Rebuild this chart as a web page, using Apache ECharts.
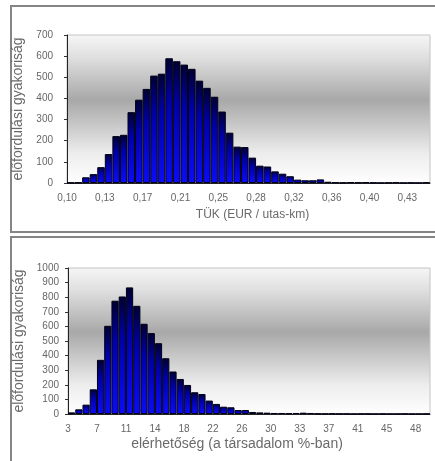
<!DOCTYPE html>
<html>
<head>
<meta charset="utf-8">
<script src="https://cdn.jsdelivr.net/npm/echarts@6/dist/echarts.min.js"></script>
<style>
  html, body { margin: 0; padding: 0; background: #fff; }
  #chart { width: 435px; height: 461px; }
</style>
</head>
<body>
<div id="chart"></div>
<script>
// felső diagram: TÜK gyakoriság (48 osztály)
var tukValues = [2, 3, 27, 42, 75, 137, 222, 228, 335, 394, 445, 508, 517, 590, 576, 560,
  540, 484, 450, 408, 338, 238, 172, 170, 120, 82, 78, 55, 44, 32, 16, 13,
  13, 17, 6, 3, 2, 4, 3, 4, 2, 1, 2, 3, 1, 2, 1, 3];
var tukTicks = ['0,10', '0,13', '0,17', '0,21', '0,25', '0,28', '0,32', '0,36', '0,40', '0,43'];

// alsó diagram: elérhetőség gyakoriság (50 osztály)
var elerValues = [11, 32, 64, 169, 371, 604, 776, 805, 867, 741, 618, 554, 485, 382, 291, 240,
  199, 149, 137, 92, 69, 50, 46, 27, 27, 14, 11, 9, 7, 7, 5, 7,
  9, 7, 3, 2, 3, 2, 2, 1, 2, 2, 1, 2, 1, 1, 2, 1, 1, 2];
var elerTicks = ['3', '7', '11', '14', '18', '22', '26', '30', '33', '37', '41', '45', '48'];

var font = 'Liberation Sans, Arial, sans-serif';

var plotBg = new echarts.graphic.LinearGradient(0, 0, 0, 1, [
  { offset: 0, color: '#f6f6f6' },
  { offset: 0.15, color: '#e0e0e0' },
  { offset: 0.44, color: '#a8a8a8' },
  { offset: 0.8, color: '#ededed' },
  { offset: 1, color: '#ffffff' }
]);
var barFill = new echarts.graphic.LinearGradient(0, 0, 0, 1, [
  { offset: 0, color: '#000030' },
  { offset: 0.35, color: '#0000a8' },
  { offset: 1, color: '#0c0cf8' }
]);

function xAxisFor(gridIndex, values, ticks, step, name, gap, pad, nameSize, namePad) {
  return {
    type: 'category',
    gridIndex: gridIndex,
    data: values.map(function (v, i) { return i; }),
    name: name,
    nameLocation: 'middle',
    nameGap: gap,
    nameTextStyle: { color: '#6a6a6a', fontSize: nameSize, fontFamily: font, padding: namePad },
    axisLine: { lineStyle: { color: '#222', width: 1 } },
    axisTick: { interval: 0, length: 3, lineStyle: { color: '#333' } },
    axisLabel: {
      interval: 0,
      margin: 10,
      fontSize: 10,
      color: '#666',
      fontFamily: font,
      padding: [0, pad, 0, 0],
      formatter: function (v, i) { return i % step === 0 ? (ticks[i / step] || '') : ''; }
    }
  };
}

function yAxisFor(gridIndex, max, name, margin, gap) {
  return {
    type: 'value',
    gridIndex: gridIndex,
    min: 0,
    max: max,
    interval: 100,
    name: name,
    nameLocation: 'middle',
    nameRotate: 90,
    nameGap: gap,
    nameTextStyle: { color: '#6a6a6a', fontSize: 14, fontFamily: font },
    axisLine: { show: true, lineStyle: { color: '#222', width: 1 } },
    axisTick: { show: true, length: 3, lineStyle: { color: '#333' } },
    axisLabel: { margin: margin, fontSize: 10, color: '#666', fontFamily: font,
      formatter: function (v) { return String(v); } },
    splitLine: { show: false }
  };
}

var myChart = echarts.init(document.getElementById('chart'));
var option = {
  animation: false,
  backgroundColor: '#fff',
  graphic: [
    { type: 'rect', z: -5, shape: { x: 11, y: 6, width: 440, height: 226 },
      style: { fill: 'none', stroke: '#858585', lineWidth: 2 } },
    { type: 'rect', z: -5, shape: { x: 11, y: 237, width: 440, height: 240 },
      style: { fill: 'none', stroke: '#858585', lineWidth: 2 } }
  ],
  grid: [
    { left: 67, top: 35, width: 363, height: 148, show: true,
      backgroundColor: plotBg, borderColor: '#c4c4c4', borderWidth: 1 },
    { left: 68, top: 268, width: 362, height: 146, show: true,
      backgroundColor: plotBg, borderColor: '#c4c4c4', borderWidth: 1 }
  ],
  xAxis: [
    xAxisFor(0, tukValues, tukTicks, 5, 'TÜK (EUR / utas-km)', 26, 7.5, 12, [0, 0, 0, 8]),
    xAxisFor(1, elerValues, elerTicks, 4, 'elérhetőség (a társadalom %-ban)', 23, 7, 14, [0, 24, 0, 0])
  ],
  yAxis: [
    yAxisFor(0, 700, 'előfordulási gyakoriság', 14, 37),
    yAxisFor(1, 1000, 'előfordulási gyakoriság', 9, 38)
  ],
  series: [
    { type: 'bar', xAxisIndex: 0, yAxisIndex: 0, data: tukValues,
      barCategoryGap: '0%', itemStyle: { color: barFill, borderColor: '#000018', borderWidth: 1 } },
    { type: 'bar', xAxisIndex: 1, yAxisIndex: 1, data: elerValues,
      barCategoryGap: '0%', itemStyle: { color: barFill, borderColor: '#000018', borderWidth: 1 } }
  ]
};
myChart.setOption(option);
</script>
</body>
</html>
